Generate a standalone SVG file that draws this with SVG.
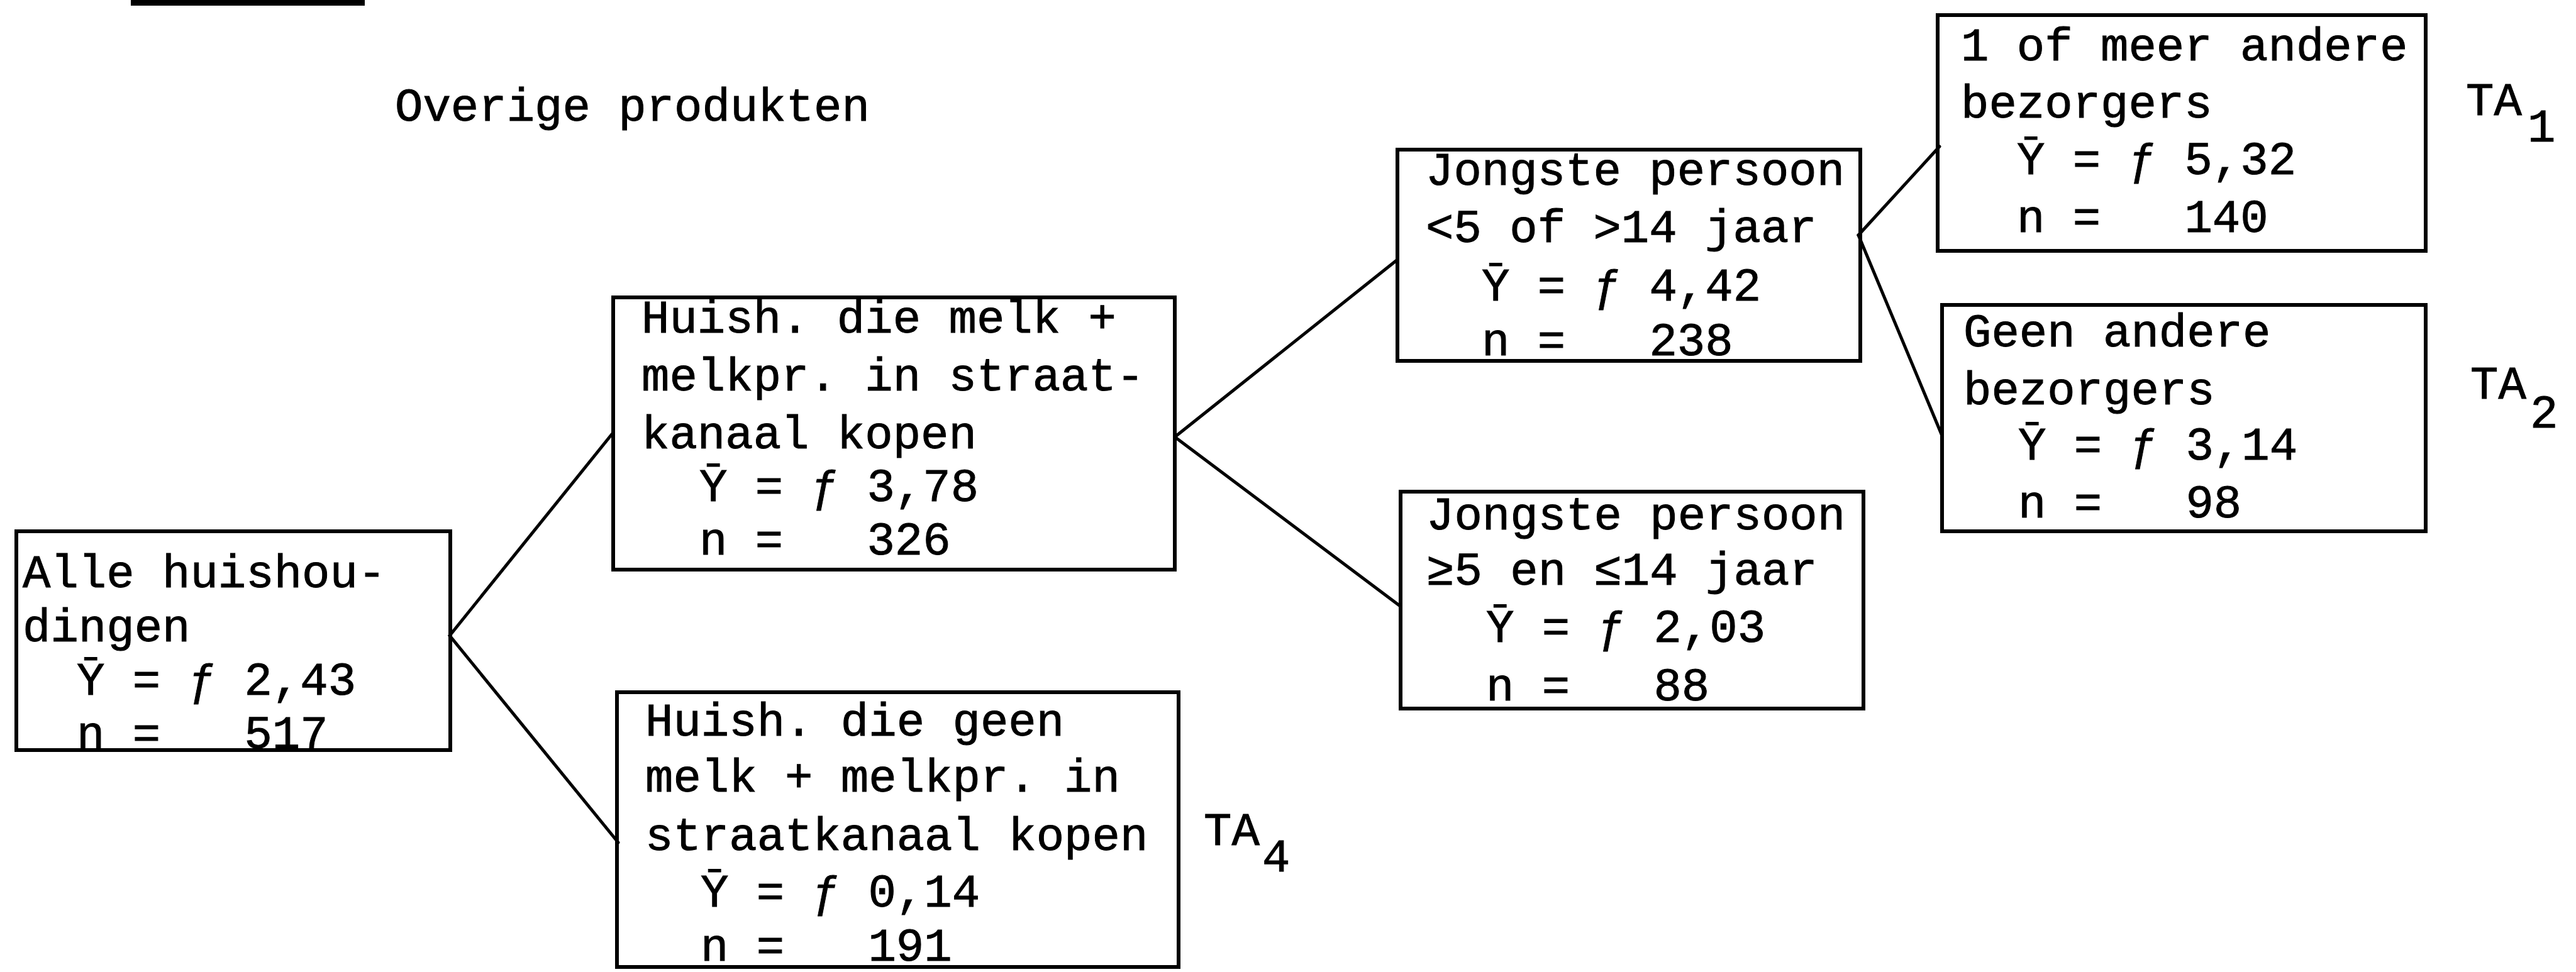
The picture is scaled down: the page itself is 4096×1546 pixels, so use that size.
<svg xmlns="http://www.w3.org/2000/svg" width="4096" height="1546" viewBox="0 0 4096 1546">
<style>
.box{fill:none;stroke:#000;stroke-width:6}
.con{stroke:#000;stroke-width:5;fill:none;stroke-linecap:round}
text{font-family:"Liberation Mono","DejaVu Sans Mono",monospace;font-size:74px;fill:#000;stroke:#000;stroke-width:1}
</style>
<rect width="4096" height="1546" fill="#fff"/>
<rect id="topbar" x="208" y="0" width="372" height="9" fill="#000"/>
<text id="title" x="628" y="192">Overige produkten</text>
<g id="connectors">
<line class="con" x1="715" y1="1011" x2="975" y2="688"/>
<line class="con" x1="715" y1="1011" x2="983" y2="1340"/>
<line class="con" x1="1868" y1="695" x2="2222" y2="413"/>
<line class="con" x1="1868" y1="695" x2="2225" y2="963"/>
<line class="con" x1="2955" y1="374" x2="3084" y2="233"/>
<line class="con" x1="2955" y1="374" x2="3088" y2="693"/>
</g>
<g id="node-alle">
<rect class="box" x="26" y="845" width="690" height="348"/>
<text x="36" y="934">Alle huishou-</text>
<text x="36" y="1020">dingen</text>
<text x="122" y="1105" xml:space="preserve">Ȳ = ƒ 2,43</text>
<text x="122" y="1190" xml:space="preserve">n =   517</text>
</g>
<g id="node-melk">
<rect class="box" x="975" y="473" width="893" height="433"/>
<text x="1020" y="529">Huish. die melk +</text>
<text x="1020" y="621">melkpr. in straat-</text>
<text x="1020" y="713">kanaal kopen</text>
<text x="1112" y="797" xml:space="preserve">Ȳ = ƒ 3,78</text>
<text x="1112" y="882" xml:space="preserve">n =   326</text>
</g>
<g id="node-geen">
<rect class="box" x="981" y="1101" width="893" height="437"/>
<text x="1026" y="1170">Huish. die geen</text>
<text x="1026" y="1259">melk + melkpr. in</text>
<text x="1026" y="1352">straatkanaal kopen</text>
<text x="1114" y="1442" xml:space="preserve">Ȳ = ƒ 0,14</text>
<text x="1114" y="1528" xml:space="preserve">n =   191</text>
<text x="1914" y="1344">TA</text>
<text x="2007" y="1386">4</text>
</g>
<g id="node-jong1">
<rect class="box" x="2222" y="238" width="736" height="336"/>
<text x="2267" y="294">Jongste persoon</text>
<text x="2267" y="385">&lt;5 of &gt;14 jaar</text>
<text x="2356" y="478" xml:space="preserve">Ȳ = ƒ 4,42</text>
<text x="2356" y="565" xml:space="preserve">n =   238</text>
</g>
<g id="node-jong2">
<rect class="box" x="2227" y="782" width="736" height="345"/>
<text x="2268" y="842">Jongste persoon</text>
<text x="2268" y="930">≥5 en ≤14 jaar</text>
<text x="2363" y="1021" xml:space="preserve">Ȳ = ƒ 2,03</text>
<text x="2363" y="1114" xml:space="preserve">n =   88</text>
</g>
<g id="node-meer">
<rect class="box" x="3081" y="24" width="776" height="375"/>
<text x="3118" y="96">1 of meer andere</text>
<text x="3118" y="187">bezorgers</text>
<text x="3207" y="277" xml:space="preserve">Ȳ = ƒ 5,32</text>
<text x="3207" y="369" xml:space="preserve">n =   140</text>
<text x="3921" y="183">TA</text>
<text x="4019" y="225">1</text>
</g>
<g id="node-geenandere">
<rect class="box" x="3088" y="485" width="769" height="360"/>
<text x="3122" y="551">Geen andere</text>
<text x="3122" y="643">bezorgers</text>
<text x="3209" y="731" xml:space="preserve">Ȳ = ƒ 3,14</text>
<text x="3209" y="823" xml:space="preserve">n =   98</text>
<text x="3928" y="634">TA</text>
<text x="4023" y="680">2</text>
</g>
</svg>
